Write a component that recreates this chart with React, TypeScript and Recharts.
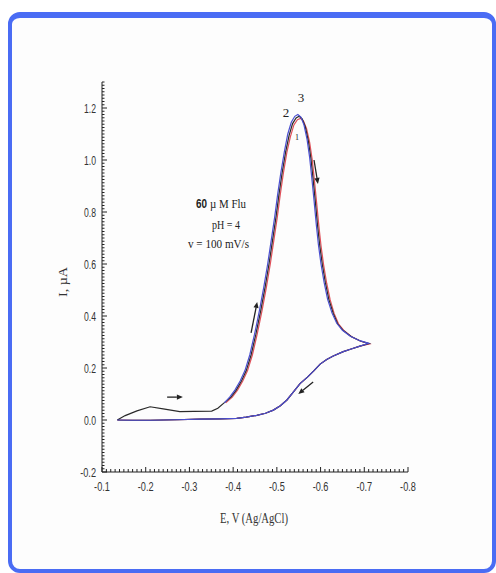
import React from 'react';
import { LineChart, Line, XAxis, YAxis, ReferenceLine } from 'recharts';

// ---- tick labels ----
const X_TICK_LABELS = [-0.1, -0.2, -0.3, -0.4, -0.5, -0.6, -0.7, -0.8];
const Y_TICK_LABELS = [-0.2, 0.0, 0.2, 0.4, 0.6, 0.8, 1.0, 1.2];

// ---- forward scan, low-potential part (cycle 1 only visible) ----
const FWD_LOW_E = [-0.135, -0.153, -0.18, -0.21, -0.24, -0.278, -0.31, -0.351, -0.365, -0.378];
const FWD_LOW_I = [0.0, 0.017, 0.035, 0.051, 0.043, 0.032, 0.033, 0.034, 0.045, 0.064];

// ---- cycle 1 (black) anodic peak ----
const C1_E = [-0.395, -0.407, -0.419, -0.43, -0.441, -0.452, -0.463, -0.473, -0.482, -0.49, -0.498, -0.505, -0.512, -0.52, -0.528, -0.536, -0.544, -0.551, -0.558, -0.565, -0.572, -0.578, -0.583, -0.588, -0.593, -0.598, -0.604, -0.611, -0.619, -0.629, -0.639, -0.652, -0.67, -0.691, -0.711];
const C1_I = [0.088, 0.115, 0.15, 0.19, 0.25, 0.33, 0.42, 0.51, 0.6, 0.69, 0.78, 0.87, 0.95, 1.03, 1.095, 1.14, 1.162, 1.168, 1.158, 1.128, 1.074, 1.005, 0.925, 0.84, 0.75, 0.672, 0.598, 0.528, 0.463, 0.41, 0.37, 0.344, 0.321, 0.304, 0.294];

// ---- cycle 2 (red) anodic peak ----
const C2_E = [-0.383, -0.398, -0.41, -0.422, -0.433, -0.444, -0.455, -0.466, -0.476, -0.485, -0.493, -0.501, -0.508, -0.515, -0.523, -0.531, -0.539, -0.547, -0.554, -0.561, -0.568, -0.575, -0.581, -0.586, -0.591, -0.596, -0.601, -0.607, -0.614, -0.622, -0.631, -0.641, -0.654, -0.671, -0.692, -0.712];
const C2_I = [0.066, 0.088, 0.115, 0.15, 0.19, 0.25, 0.33, 0.42, 0.51, 0.6, 0.69, 0.78, 0.87, 0.95, 1.03, 1.09, 1.135, 1.155, 1.16, 1.15, 1.12, 1.068, 1.0, 0.92, 0.835, 0.748, 0.67, 0.596, 0.526, 0.462, 0.41, 0.37, 0.343, 0.32, 0.303, 0.293];

// ---- cycle 3 (blue) anodic peak ----
const C3_E = [-0.38, -0.392, -0.404, -0.416, -0.427, -0.438, -0.449, -0.46, -0.47, -0.479, -0.487, -0.495, -0.502, -0.509, -0.517, -0.525, -0.533, -0.541, -0.548, -0.555, -0.562, -0.569, -0.575, -0.58, -0.585, -0.59, -0.595, -0.601, -0.608, -0.616, -0.626, -0.637, -0.65, -0.668, -0.69, -0.71];
const C3_I = [0.066, 0.088, 0.115, 0.15, 0.19, 0.25, 0.33, 0.42, 0.51, 0.6, 0.69, 0.78, 0.87, 0.95, 1.03, 1.1, 1.145, 1.168, 1.175, 1.165, 1.135, 1.08, 1.01, 0.93, 0.845, 0.755, 0.675, 0.6, 0.53, 0.465, 0.412, 0.372, 0.345, 0.322, 0.305, 0.295];

// ---- reverse scan (shared by all cycles) ----
const REV_E = [-0.69, -0.67, -0.652, -0.629, -0.614, -0.599, -0.585, -0.57, -0.553, -0.538, -0.523, -0.508, -0.492, -0.474, -0.454, -0.43, -0.408, -0.37, -0.324, -0.27, -0.21, -0.17, -0.135];
const REV_I = [0.284, 0.273, 0.263, 0.246, 0.233, 0.215, 0.19, 0.165, 0.14, 0.108, 0.077, 0.055, 0.038, 0.026, 0.018, 0.011, 0.006, 0.004, 0.003, 0.001, -0.001, -0.001, 0.0];

// ---- scan-direction arrows (E, I start -> end) ----
const ARROW_START_E = [-0.249, -0.441, -0.585, -0.583];
const ARROW_START_I = [0.088, 0.335, 1.0, 0.146];
const ARROW_END_E = [-0.285, -0.455, -0.594, -0.549];
const ARROW_END_I = [0.088, 0.454, 0.908, 0.1];

const toPts = (E: number[], I: number[]) => E.map((e, i) => ({ x: e, y: I[i] }));

const cycle1 = [...toPts(FWD_LOW_E, FWD_LOW_I), ...toPts(C1_E, C1_I), ...toPts(REV_E, REV_I)];
const cycle2 = [...toPts(C2_E, C2_I), ...toPts(REV_E, REV_I)];
const cycle3 = [...toPts(C3_E, C3_I), ...toPts(REV_E, REV_I)];

// minor + major tick positions
const X_ALL_TICKS = Array.from({ length: 71 }, (_, i) => -(10 + i) / 100);
const Y_ALL_TICKS = Array.from({ length: 121 }, (_, i) => Math.round((-0.2 + i * 0.0125) * 10000) / 10000);

const charW = (s: string) =>
  s.split('').reduce((a, c) => a + (c === '.' ? 2.2 : c === '-' ? 3.8 : 4.9), 0);

const isMajorX = (v: number) => X_TICK_LABELS.some((t) => Math.abs(t - v) < 1e-6);
const isMajorY = (v: number) => Y_TICK_LABELS.some((t) => Math.abs(t - v) < 1e-6);

const TICK_FONT = '"Liberation Sans Narrow", "Liberation Sans", Arial, sans-serif';
const SERIF = '"Liberation Serif", "Times New Roman", serif';

const XTick = (props: any) => {
  const { x, y, payload } = props;
  const v = payload.value;
  const major = isMajorX(v);
  const label = v.toFixed(1);
  return (
    <g>
      <line x1={x} y1={y} x2={x} y2={y - (major ? 5 : 3)} stroke="#222" strokeWidth={1} />
      {major && (
        <text
          x={x}
          y={y + 19}
          textAnchor="middle"
          fontSize={13}
          fontFamily={TICK_FONT}
          fill="#333"
          textLength={charW(label)}
          lengthAdjust="spacingAndGlyphs"
        >
          {label}
        </text>
      )}
    </g>
  );
};

const YTick = (props: any) => {
  const { x, y, payload } = props;
  const v = payload.value;
  const major = isMajorY(v);
  const label = v.toFixed(1);
  return (
    <g>
      <line x1={x} y1={y} x2={x + (major ? 5 : 2.5)} y2={y} stroke="#222" strokeWidth={1} />
      {major && (
        <text
          x={x - 6}
          y={y + 4.5}
          textAnchor="end"
          fontSize={13}
          fontFamily={TICK_FONT}
          fill="#333"
          textLength={charW(label)}
          lengthAdjust="spacingAndGlyphs"
        >
          {label}
        </text>
      )}
    </g>
  );
};

const ArrowShape = (props: any) => {
  const { x1, y1, x2, y2 } = props;
  const dx = x2 - x1;
  const dy = y2 - y1;
  const len = Math.hypot(dx, dy) || 1;
  const ux = dx / len;
  const uy = dy / len;
  const hl = 6;
  const hw = 2.6;
  const bx = x2 - ux * hl;
  const by = y2 - uy * hl;
  return (
    <g>
      <line x1={x1} y1={y1} x2={bx} y2={by} stroke="#222" strokeWidth={1.3} />
      <polygon
        points={`${x2},${y2} ${bx - uy * hw},${by + ux * hw} ${bx + uy * hw},${by - ux * hw}`}
        fill="#222"
      />
    </g>
  );
};

export default function App() {
  return (
    <div style={{ position: 'absolute', left: 0, top: 0, width: 496, height: 573, background: '#fff', overflow: 'hidden' }}>
      <div
        style={{
          position: 'absolute',
          left: 8,
          top: 12,
          width: 488,
          height: 561,
          boxSizing: 'border-box',
          borderStyle: 'solid',
          borderColor: '#4a6cf4',
          borderWidth: '6px 4px 4px 4px',
          borderRadius: 12,
          background: '#fdfdfd',
        }}
      />
      <div style={{ position: 'absolute', left: 0, top: 0 }}>
        <LineChart width={496} height={573} margin={{ top: 82, right: 88, bottom: 71, left: 0 }}>
          <XAxis
            type="number"
            dataKey="x"
            domain={[-0.8, -0.1]}
            reversed
            allowDataOverflow
            ticks={X_ALL_TICKS}
            interval={0}
            tickSize={0}
            tickMargin={0}
            tickLine={false}
            tick={(p: any) => <XTick {...p} />}
            axisLine={{ stroke: '#222', strokeWidth: 1 }}
            height={30}
          />
          <YAxis
            type="number"
            dataKey="y"
            domain={[-0.2, 1.3]}
            allowDataOverflow
            ticks={Y_ALL_TICKS}
            interval={0}
            tickSize={0}
            tickMargin={0}
            tickLine={false}
            tick={(p: any) => <YTick {...p} />}
            axisLine={{ stroke: '#222', strokeWidth: 1 }}
            width={102}
          />
          <Line data={cycle2} dataKey="y" type="linear" stroke="#e0505a" strokeWidth={1.2} dot={false} isAnimationActive={false} />
          <Line data={cycle1} dataKey="y" type="linear" stroke="#2a2a2a" strokeWidth={1.2} dot={false} isAnimationActive={false} />
          <Line data={cycle3} dataKey="y" type="linear" stroke="#4b4fd0" strokeWidth={1.2} dot={false} isAnimationActive={false} />
          {ARROW_START_E.map((e, i) => (
            <ReferenceLine
              key={i}
              segment={[
                { x: e, y: ARROW_START_I[i] },
                { x: ARROW_END_E[i], y: ARROW_END_I[i] },
              ]}
              shape={ArrowShape}
            />
          ))}
        </LineChart>
      </div>
      <svg width={496} height={573} style={{ position: 'absolute', left: 0, top: 0, pointerEvents: 'none' }}>
        <text x={254} y={523} textAnchor="middle" fontSize={14} fontFamily={SERIF} fill="#333" textLength={68} lengthAdjust="spacingAndGlyphs">
          E, V (Ag/AgCl)
        </text>
        <text
          x={0}
          y={0}
          transform="translate(67 282) rotate(-90)"
          textAnchor="middle"
          fontSize={13}
          fontFamily={SERIF}
          fill="#333"
          textLength={30}
          lengthAdjust="spacingAndGlyphs"
        >
          I, µA
        </text>
        <text x={196} y={208} fontSize={13} fill="#222" fontFamily='"Liberation Sans", Arial, sans-serif' fontWeight="bold" textLength={11} lengthAdjust="spacingAndGlyphs">
          60
        </text>
        <text x={210} y={208} fontSize={13} fill="#222" fontFamily={SERIF} textLength={36} lengthAdjust="spacingAndGlyphs">
          µ M Flu
        </text>
        <text x={212} y={229} fontSize={13} fill="#222" fontFamily={SERIF} textLength={28} lengthAdjust="spacingAndGlyphs">
          pH = 4
        </text>
        <text x={188} y={248} fontSize={13} fill="#222" fontFamily={SERIF} textLength={61} lengthAdjust="spacingAndGlyphs">
          v = 100 mV/s
        </text>
        <text x={286} y={117} textAnchor="middle" fontSize={13} fill="#222" fontFamily={SERIF}>2</text>
        <text x={301} y={102} textAnchor="middle" fontSize={13} fill="#222" fontFamily={SERIF}>3</text>
        <text x={297} y={140} textAnchor="middle" fontSize={8} fill="#222" fontFamily={SERIF}>1</text>
      </svg>
    </div>
  );
}
